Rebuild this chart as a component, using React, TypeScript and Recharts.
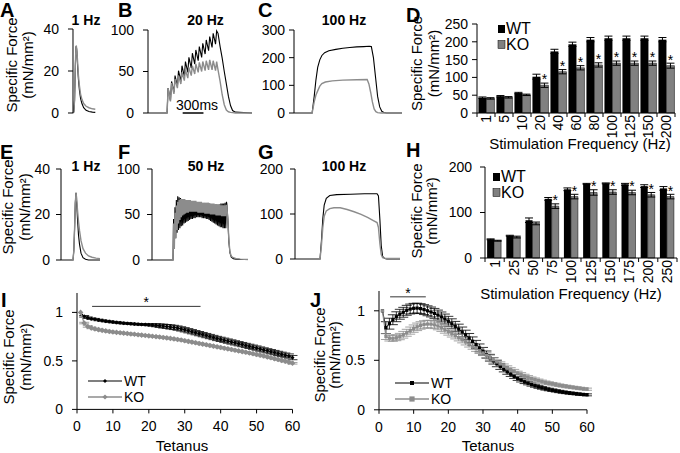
import React from "react";
import {
  LineChart,
  Line,
  BarChart,
  Bar,
  XAxis,
  YAxis,
  ErrorBar,
  LabelList,
  ReferenceLine,
} from "recharts";

const FONT = "'Liberation Sans', Arial, Helvetica, sans-serif";
const INK = "#000";
const GREY = "#8c8c8c";
const BAR_GREY = "#808080";

// ---------- force traces (time in ms, force in mN/mm²) ----------
// A: 1 Hz twitch
const aTime = [0, 8, 16, 24, 30, 34, 40, 48, 56, 66, 78, 92, 110, 135, 165, 200, 230];
const aWt = [0, 0.5, 6, 22, 31, 32, 29, 22, 16, 11, 7, 4.5, 2.5, 1.3, 0.7, 0.4, 0.3];
const aKo = [0, 0.5, 6, 22, 31, 32, 30, 24, 18, 13, 9, 6.5, 4.5, 3.2, 2.5, 2, 1.8];

// B: 20 Hz, peaks and troughs of each pulse
const bWtPeaks = [30, 38, 45, 51, 57, 62, 67, 72, 76, 80, 84, 88, 92, 96, 99];
const bWtTroughs = [15, 25, 32, 38, 44, 49, 54, 59, 63, 67, 71, 75, 79, 83];
const bKoPeaks = [30, 36, 41, 45, 49, 52, 55, 57, 59, 61, 62, 63, 64, 63, 62];
const bKoTroughs = [14, 23, 30, 35, 39, 42, 45, 47, 49, 50, 51, 52, 52, 51];
const bTailTime = [1010, 1040, 1070, 1100, 1130, 1160, 1190, 1220, 1260, 1500];
const bWtTail = [96, 80, 66, 50, 35, 20, 9, 3, 1, 0];
const bKoTail = [52, 38, 22, 10, 3.5, 1.5, 0.8, 0.5, 0, 0];

// C: 100 Hz
const cWtTime = [0, 260, 290, 315, 340, 370, 400, 440, 500, 600, 700, 800, 900, 1000, 1080, 1110, 1140, 1170, 1200, 1230, 1260, 1290, 1330, 1550];
const cWt = [0, 0, 60, 120, 165, 192, 208, 218, 225, 230, 234, 237, 239, 240, 241, 240, 200, 130, 60, 22, 6, 1.5, 0, 0];
const cKoTime = [0, 260, 290, 315, 340, 370, 400, 450, 550, 700, 900, 1050, 1075, 1100, 1125, 1150, 1175, 1200, 1250, 1550];
const cKo = [0, 0, 40, 65, 80, 97, 106, 112, 116, 119, 120, 121, 105, 75, 40, 15, 5, 1.5, 0, 0];

// E: 1 Hz twitch
const eTime = [0, 60, 120, 128, 136, 143, 150, 157, 165, 175, 185, 200, 220, 245, 275, 310, 350, 390];
const eWt = [0, 0, 0, 4, 14, 25, 29.5, 25, 18, 11, 7, 3, 1, 0.3, 0, 0, 0, 0];
const eKo = [0, 0, 0, 4, 14, 25, 29.5, 27, 22, 17, 13, 8.5, 5, 3, 1.8, 1.2, 0.8, 0.6];

// F: 50 Hz
const fWtPeaks = [45, 58, 66, 70, 69, 68, 67, 66, 66, 65, 65, 65, 64, 64, 64, 64, 63, 63, 63, 63, 63, 62, 62, 62, 62, 62, 62, 61, 61, 61, 61, 61, 61, 61, 62, 62, 62, 63, 64];
const fWtTroughs = [14, 24, 30, 33, 35, 37, 38, 40, 41, 42, 43, 44, 45, 45, 46, 46, 47, 47, 47, 47, 46, 46, 46, 45, 45, 44, 43, 42, 41, 40, 39, 38, 37, 36, 36, 35, 35, 35];
const fKoPeaks = [40, 52, 60, 64, 66, 67, 67, 67, 67, 66, 66, 66, 66, 65, 65, 65, 65, 64, 64, 64, 64, 63, 63, 63, 63, 63, 62, 62, 62, 62, 61, 61, 61, 61, 60, 60, 60, 60, 60];
const fKoTroughs = [12, 24, 33, 40, 44, 47, 49, 50, 51, 52, 52, 53, 53, 53, 53, 53, 53, 52, 52, 52, 52, 52, 51, 51, 51, 51, 50, 50, 50, 50, 49, 49, 49, 49, 48, 48, 48, 48];
const fTailTime = [1075, 1090, 1105, 1120, 1140, 1170, 1210, 1270, 1380];
const fWtTail = [62, 45, 20, 8, 3, 1.5, 1, 0.5, 0.5];
const fKoTail = [60, 45, 22, 9, 4, 2.5, 1.5, 1, 0.5];

// G: 100 Hz
const gWtTime = [0, 360, 380, 400, 420, 450, 500, 600, 800, 1000, 1180, 1200, 1220, 1240, 1260, 1290, 1320, 1510];
const gWt = [0, 0, 40, 90, 120, 135, 141, 143, 144, 145, 145, 140, 90, 30, 6, 1, 0, 0];
const gKoTime = [0, 360, 380, 400, 420, 450, 500, 560, 650, 750, 850, 950, 1050, 1120, 1180, 1200, 1220, 1240, 1260, 1300, 1510];
const gKo = [0, 0, 30, 70, 95, 107, 112, 114, 114, 110, 105, 99, 92, 86, 81, 70, 35, 10, 3, 1.5, 1];

// ---------- D: force-frequency, protocol 1 ----------
const dFreq = ["1", "5", "10", "20", "40", "60", "80", "100", "125", "150", "200"];
const dWt = [43, 47, 56, 102, 173, 193, 206, 210, 210, 210, 206];
const dWtErr = [2, 2, 2, 7, 6, 6, 6, 6, 6, 6, 6];
const dKo = [41, 44, 51, 78, 116, 127, 135, 140, 140, 140, 133];
const dKoErr = [2, 2, 2, 6, 6, 6, 6, 6, 6, 6, 7];
const dSig = [0, 0, 0, 1, 1, 1, 1, 1, 1, 1, 1];

// ---------- H: force-frequency, protocol 2 ----------
const hFreq = ["1", "25", "50", "75", "100", "125", "150", "175", "200", "250"];
const hWt = [41, 49, 83, 130, 151, 163, 164, 162, 158, 153];
const hWtErr = [1, 1, 5, 3, 3, 1, 1, 2, 3, 4];
const hKo = [38, 46, 76, 114, 135, 144, 145, 144, 139, 135];
const hKoErr = [1, 2, 3, 5, 5, 6, 5, 5, 5, 5];
const hSig = [0, 0, 0, 1, 1, 1, 1, 1, 1, 1];

// ---------- I: fatigue, 60 tetani ----------
const iWt = [
  1.0, 0.96, 0.945, 0.935, 0.93, 0.922, 0.916, 0.91, 0.905, 0.9,
  0.896, 0.892, 0.889, 0.886, 0.883, 0.88, 0.878, 0.876, 0.874, 0.872,
  0.87, 0.867, 0.863, 0.859, 0.855, 0.85, 0.845, 0.838, 0.83, 0.821,
  0.811, 0.801, 0.791, 0.781, 0.771, 0.761, 0.751, 0.741, 0.731, 0.722,
  0.713, 0.704, 0.695, 0.686, 0.677, 0.668, 0.659, 0.65, 0.641, 0.632,
  0.622, 0.613, 0.604, 0.595, 0.586, 0.577, 0.568, 0.559, 0.55, 0.534,
];
const iKo = [
  1.0, 0.89, 0.855, 0.84, 0.83, 0.822, 0.815, 0.809, 0.803, 0.798,
  0.794, 0.79, 0.786, 0.782, 0.778, 0.774, 0.77, 0.766, 0.762, 0.758,
  0.754, 0.75, 0.746, 0.741, 0.737, 0.732, 0.727, 0.721, 0.715, 0.708,
  0.701, 0.694, 0.687, 0.68, 0.673, 0.666, 0.659, 0.652, 0.645, 0.638,
  0.631, 0.624, 0.617, 0.61, 0.603, 0.596, 0.589, 0.582, 0.574, 0.566,
  0.558, 0.55, 0.541, 0.532, 0.523, 0.514, 0.505, 0.496, 0.487, 0.475,
];
const iWtErr = [
  0, 0.008, 0.008, 0.008, 0.008, 0.008, 0.008, 0.008, 0.008, 0.008,
  0.008, 0.008, 0.008, 0.008, 0.008, 0.008, 0.008, 0.008, 0.008, 0.01,
  0.012, 0.015, 0.018, 0.02, 0.02, 0.022, 0.022, 0.022, 0.022, 0.022,
  0.022, 0.022, 0.022, 0.022, 0.022, 0.022, 0.022, 0.022, 0.022, 0.022,
  0.022, 0.022, 0.022, 0.022, 0.022, 0.022, 0.022, 0.022, 0.022, 0.022,
  0.022, 0.022, 0.022, 0.022, 0.022, 0.022, 0.022, 0.022, 0.022, 0.022,
];
const iKoErr = [
  0, 0.008, 0.008, 0.008, 0.008, 0.008, 0.008, 0.008, 0.008, 0.008,
  0.008, 0.008, 0.008, 0.008, 0.008, 0.008, 0.008, 0.008, 0.008, 0.008,
  0.008, 0.008, 0.008, 0.008, 0.008, 0.008, 0.008, 0.008, 0.008, 0.008,
  0.008, 0.008, 0.008, 0.008, 0.008, 0.008, 0.008, 0.008, 0.008, 0.008,
  0.008, 0.008, 0.008, 0.008, 0.008, 0.008, 0.008, 0.008, 0.008, 0.008,
  0.008, 0.008, 0.008, 0.008, 0.008, 0.008, 0.008, 0.008, 0.008, 0.008,
];

// ---------- J: fatigue, 60 tetani ----------
const jWt = [
  1.0, 0.83, 0.87, 0.91, 0.94, 0.965, 0.985, 1.005, 1.018, 1.025,
  1.027, 1.022, 1.012, 1.0, 0.988, 0.974, 0.957, 0.938, 0.917, 0.894,
  0.869, 0.843, 0.815, 0.786, 0.756, 0.725, 0.692, 0.659, 0.625, 0.592,
  0.558, 0.526, 0.494, 0.465, 0.436, 0.409, 0.383, 0.359, 0.337, 0.317,
  0.299, 0.283, 0.268, 0.255, 0.243, 0.232, 0.222, 0.213, 0.205, 0.198,
  0.191, 0.185, 0.179, 0.174, 0.169, 0.165, 0.161, 0.157, 0.154, 0.151,
];
const jKo = [
  1.0, 0.74, 0.725, 0.722, 0.728, 0.74, 0.758, 0.778, 0.8, 0.82,
  0.838, 0.852, 0.862, 0.866, 0.865, 0.858, 0.846, 0.83, 0.811, 0.79,
  0.77, 0.75, 0.729, 0.708, 0.686, 0.664, 0.641, 0.618, 0.596, 0.574,
  0.551, 0.528, 0.505, 0.483, 0.463, 0.443, 0.424, 0.406, 0.389, 0.372,
  0.357, 0.342, 0.328, 0.315, 0.305, 0.295, 0.285, 0.276, 0.269, 0.262,
  0.255, 0.248, 0.242, 0.236, 0.231, 0.226, 0.221, 0.216, 0.212, 0.208,
];
const jWtErr = [
  0, 0.06, 0.055, 0.05, 0.05, 0.05, 0.05, 0.05, 0.05, 0.05,
  0.05, 0.05, 0.05, 0.05, 0.05, 0.05, 0.05, 0.05, 0.05, 0.05,
  0.05, 0.05, 0.05, 0.05, 0.048, 0.046, 0.044, 0.042, 0.04, 0.038,
  0.036, 0.034, 0.032, 0.03, 0.028, 0.026, 0.024, 0.022, 0.02, 0.02,
  0.018, 0.018, 0.016, 0.016, 0.015, 0.015, 0.014, 0.014, 0.013, 0.013,
  0.012, 0.012, 0.012, 0.011, 0.011, 0.011, 0.01, 0.01, 0.01, 0.01,
];
const jKoErr = [
  0, 0.03, 0.03, 0.03, 0.03, 0.032, 0.034, 0.035, 0.036, 0.037,
  0.038, 0.038, 0.038, 0.038, 0.038, 0.038, 0.038, 0.038, 0.037, 0.036,
  0.035, 0.034, 0.033, 0.032, 0.031, 0.03, 0.029, 0.028, 0.027, 0.026,
  0.025, 0.024, 0.023, 0.022, 0.021, 0.02, 0.02, 0.019, 0.019, 0.018,
  0.018, 0.017, 0.017, 0.016, 0.016, 0.015, 0.015, 0.015, 0.014, 0.014,
  0.014, 0.013, 0.013, 0.013, 0.012, 0.012, 0.012, 0.012, 0.011, 0.011,
];

const tetanusTicks = [0, 10, 20, 30, 40, 50, 60];

// ---------- helpers ----------
type Pt = { t: number; v: number };
const zipT = (ts: number[], vs: number[]): Pt[] => ts.map((t, i) => ({ t, v: vs[i] }));

// one twitch per stimulus: rise to peak, fall to trough before the next pulse
function pulseTrain(onset: number, period: number, rise: number, peaks: number[], troughs: number[], tailT: number[], tailV: number[]): Pt[] {
  const pts: Pt[] = [{ t: 0, v: 0 }, { t: onset, v: 0 }];
  peaks.forEach((p, i) => {
    const t0 = onset + i * period;
    pts.push({ t: t0 + rise, v: p });
    if (i < troughs.length) pts.push({ t: t0 + period - 1, v: troughs[i] });
  });
  tailT.forEach((t, i) => pts.push({ t, v: tailV[i] }));
  return pts;
}

type Rect = { l: number; t: number; r: number; b: number };
// room around each plot so tick labels are not clipped by the svg
const MT = 12;
const MR = 12;
const MB = 12;

const tickStyle = { fontSize: 14, fill: INK, fontFamily: FONT };

function Trace({ rect, yMax, yTicks, tMax, wt, ko, gap, children }: {
  rect: Rect; yMax: number; yTicks: number[]; tMax: number; wt: Pt[]; ko: Pt[]; gap: number; children?: React.ReactNode;
}) {
  const yW = 50;
  const w = yW + (rect.r - rect.l) + MR;
  const h = MT + (rect.b - rect.t) + MB;
  return (
    <div style={{ position: "absolute", left: rect.l - yW, top: rect.t - MT }}>
      <LineChart width={w} height={h} margin={{ top: MT, right: MR, bottom: MB, left: 0 }}>
        <XAxis type="number" dataKey="t" domain={[0, tMax]} hide />
        <YAxis type="number" domain={[0, yMax]} ticks={yTicks} interval={0} width={yW} stroke={INK}
          tickSize={5} tickMargin={gap} tick={tickStyle} />
        <Line data={wt} dataKey="v" type="linear" stroke={INK} strokeWidth={1.1} dot={false} activeDot={false} isAnimationActive={false} />
        <Line data={ko} dataKey="v" type="linear" stroke={GREY} strokeWidth={1.4} dot={false} activeDot={false} isAnimationActive={false} />
        {children}
      </LineChart>
    </div>
  );
}

const freqTick = (cats: string[], band: number) => (props: any) => {
  const { x, y, payload } = props;
  const axisY = y - 2;
  const last = payload.value === cats[cats.length - 1];
  return (
    <g>
      <line x1={x - band / 2} x2={x - band / 2} y1={axisY} y2={axisY + 4} stroke={INK} />
      {last && <line x1={x + band / 2} x2={x + band / 2} y1={axisY} y2={axisY + 4} stroke={INK} />}
      <text x={x} y={y} transform={`rotate(-90 ${x} ${y})`} textAnchor="end" dy="0.36em"
        fontSize={14} fontFamily={FONT} fill={INK}>{payload.value}</text>
    </g>
  );
};

const starLabel = (props: any) => {
  const { x, y, width, value } = props;
  if (!value) return null;
  return (
    <text x={x + width / 2} y={y - 1} textAnchor="middle" fontSize={14} fontFamily={FONT} fill={INK}>*</text>
  );
};

function FreqBars({ rect, cats, wt, wtErr, ko, koErr, sig, yMax, yTicks, gap, catGap }: {
  rect: Rect; cats: string[]; wt: number[]; wtErr: number[]; ko: number[]; koErr: number[]; sig: number[];
  yMax: number; yTicks: number[]; gap: number; catGap: string;
}) {
  const rows = cats.map((f, i) => ({ f, wt: wt[i], wtErr: wtErr[i], ko: ko[i], koErr: koErr[i], sig: sig[i] }));
  const yW = 50;
  const xH = 30;
  const plotW = rect.r - rect.l;
  return (
    <div style={{ position: "absolute", left: rect.l - yW, top: rect.t - MT }}>
      <BarChart width={yW + plotW + MR} height={MT + (rect.b - rect.t) + xH} data={rows}
        margin={{ top: MT, right: MR, bottom: 0, left: 0 }} barCategoryGap={catGap} barGap={0}>
        <XAxis dataKey="f" interval={0} stroke={INK} tickLine={false} tickSize={0} tickMargin={2} height={xH}
          tick={freqTick(cats, plotW / cats.length)} />
        <YAxis type="number" domain={[0, yMax]} ticks={yTicks} interval={0} width={yW} stroke={INK}
          tickSize={5} tickMargin={gap} tick={tickStyle} />
        <Bar dataKey="wt" fill={INK} isAnimationActive={false}>
          <ErrorBar dataKey="wtErr" width={4} stroke={INK} strokeWidth={1} />
        </Bar>
        <Bar dataKey="ko" fill={BAR_GREY} stroke={INK} strokeWidth={0.5} isAnimationActive={false}>
          <ErrorBar dataKey="koErr" width={4} stroke={INK} strokeWidth={1} />
          <LabelList dataKey="sig" content={starLabel} />
        </Bar>
      </BarChart>
    </div>
  );
}

const diamond = (fill: string, r: number) => (p: any) => {
  const { cx, cy, index } = p;
  if (cx == null || cy == null) return <g key={index} />;
  return <path key={index} d={`M${cx},${cy - r}L${cx + r},${cy}L${cx},${cy + r}L${cx - r},${cy}Z`} fill={fill} />;
};
const square = (fill: string, r: number) => (p: any) => {
  const { cx, cy, index } = p;
  if (cx == null || cy == null) return <g key={index} />;
  return <rect key={index} x={cx - r} y={cy - r} width={2 * r} height={2 * r} fill={fill} />;
};

function Fatigue({ rect, wt, ko, wtErr, koErr, marker, star }: {
  rect: Rect; wt: number[]; ko: number[]; wtErr: number[]; koErr: number[];
  marker: "diamond" | "square"; star: [number, number, number];
}) {
  const rows = wt.map((v, i) => ({ t: i + 1, wt: v, ko: ko[i], wtErr: wtErr[i], koErr: koErr[i] }));
  const yW = 50;
  const xH = 30;
  const mk = marker === "diamond" ? diamond : square;
  return (
    <div style={{ position: "absolute", left: rect.l - yW, top: rect.t - MT }}>
      <LineChart width={yW + (rect.r - rect.l) + MR} height={MT + (rect.b - rect.t) + xH} data={rows}
        margin={{ top: MT, right: MR, bottom: 0, left: 0 }}>
        <XAxis type="number" dataKey="t" domain={[0, 60]} ticks={tetanusTicks} interval={0} stroke={INK}
          tickSize={4} tickMargin={8} height={xH} tick={tickStyle} />
        <YAxis type="number" domain={[0, 1.2]} ticks={[0, 0.5, 1]} interval={0} width={yW} stroke={INK}
          tickSize={5} tickMargin={9} tick={tickStyle} />
        <ReferenceLine segment={[{ x: star[0], y: star[2] }, { x: star[1], y: star[2] }]} stroke={INK} strokeWidth={0.8}
          label={{ value: "*", position: "top", offset: -1, fontSize: 14, fill: INK, fontFamily: FONT }} />
        <Line dataKey="wt" type="linear" stroke={INK} strokeWidth={1} dot={mk(INK, marker === "diamond" ? 2 : 1.6)}
          activeDot={false} isAnimationActive={false}>
          <ErrorBar dataKey="wtErr" width={5} stroke={INK} strokeWidth={0.8} direction="y" />
        </Line>
        <Line dataKey="ko" type="linear" stroke={GREY} strokeWidth={1.2} dot={mk(GREY, marker === "diamond" ? 2.8 : 1.6)}
          activeDot={false} isAnimationActive={false}>
          <ErrorBar dataKey="koErr" width={5} stroke={GREY} strokeWidth={0.8} direction="y" />
        </Line>
      </LineChart>
    </div>
  );
}

function YLabel({ x1, x2, cy }: { x1: number; x2: number; cy: number }) {
  return (
    <g fontSize={15} fontFamily={FONT} fill={INK}>
      <text transform={`translate(${x1},${cy}) rotate(-90)`} textAnchor="middle" dominantBaseline="central">Specific Force</text>
      <text transform={`translate(${x2},${cy}) rotate(-90)`} textAnchor="middle" dominantBaseline="central">(mN/mm²)</text>
    </g>
  );
}

function SquareKey({ x, y }: { x: number; y: number }) {
  return (
    <g fontSize={16} fontFamily={FONT} fill={INK}>
      <rect x={x} y={y} width={7} height={8} fill={INK} />
      <text x={x + 8} y={y + 9}>WT</text>
      <rect x={x} y={y + 15.5} width={7} height={8} fill={BAR_GREY} stroke={INK} strokeWidth={0.5} />
      <text x={x + 8} y={y + 24.5}>KO</text>
    </g>
  );
}

function LineKey({ x, y, marker }: { x: number; y: number; marker: "diamond" | "square" }) {
  const mk = (cx: number, cy: number, fill: string, r: number) =>
    marker === "diamond"
      ? <path d={`M${cx},${cy - r}L${cx + r},${cy}L${cx},${cy + r}L${cx - r},${cy}Z`} fill={fill} />
      : <rect x={cx - r} y={cy - r} width={2 * r} height={2 * r} fill={fill} />;
  return (
    <g fontSize={14} fontFamily={FONT} fill={INK}>
      <line x1={x} x2={x + 34} y1={y} y2={y} stroke={INK} strokeWidth={1.1} />
      {mk(x + 17, y, INK, 2)}
      <text x={x + 36} y={y} dominantBaseline="central">WT</text>
      <line x1={x} x2={x + 34} y1={y + 16} y2={y + 16} stroke={GREY} strokeWidth={1.4} />
      {mk(x + 17, y + 16, GREY, 2.6)}
      <text x={x + 36} y={y + 16} dominantBaseline="central">KO</text>
    </g>
  );
}

export default function App() {
  const letter = (s: string, x: number, y: number) => (
    <text x={x} y={y} fontSize={20} fontWeight="bold" fontFamily={FONT} fill={INK}>{s}</text>
  );
  const title = (s: string, x: number, y: number) => (
    <text x={x} y={y} fontSize={14} fontWeight="bold" fontFamily={FONT} fill={INK} textAnchor="middle">{s}</text>
  );
  const xLabel = (s: string, x: number, y: number) => (
    <text x={x} y={y} fontSize={15} fontFamily={FONT} fill={INK} textAnchor="middle">{s}</text>
  );

  return (
    <div style={{ position: "absolute", left: 0, top: 0, width: 680, height: 453, background: "#fff", overflow: "hidden" }}>
      <Trace rect={{ l: 72.7, t: 29, r: 95, b: 113 }} yMax={40} yTicks={[0, 20, 40]} tMax={230}
        wt={zipT(aTime, aWt)} ko={zipT(aTime, aKo)} gap={9} />
      <Trace rect={{ l: 148, t: 30, r: 252, b: 113 }} yMax={100} yTicks={[0, 50, 100]} tMax={1500}
        wt={pulseTrain(275, 50, 15, bWtPeaks, bWtTroughs, bTailTime, bWtTail)}
        ko={pulseTrain(275, 50, 15, bKoPeaks, bKoTroughs, bTailTime, bKoTail)} gap={9}>
        <ReferenceLine segment={[{ x: 500, y: 0 }, { x: 800, y: 0 }]} stroke={INK} strokeWidth={1.5}
          label={{ value: "300ms", position: "top", offset: 3, dx: 4, fontSize: 14, fill: INK, fontFamily: FONT }} />
      </Trace>
      <Trace rect={{ l: 294, t: 30, r: 402, b: 113 }} yMax={300} yTicks={[0, 100, 200, 300]} tMax={1550}
        wt={zipT(cWtTime, cWt)} ko={zipT(cKoTime, cKo)} gap={4} />

      <Trace rect={{ l: 61, t: 169, r: 100, b: 260 }} yMax={40} yTicks={[0, 20, 40]} tMax={390}
        wt={zipT(eTime, eWt)} ko={zipT(eTime, eKo)} gap={6} />
      <Trace rect={{ l: 152, t: 169, r: 248, b: 260 }} yMax={100} yTicks={[0, 50, 100]} tMax={1380}
        wt={pulseTrain(302, 20, 8, fWtPeaks, fWtTroughs, fTailTime, fWtTail)}
        ko={pulseTrain(302, 20, 8, fKoPeaks, fKoTroughs, fTailTime, fKoTail)} gap={7} />
      <Trace rect={{ l: 295, t: 169, r: 400, b: 259 }} yMax={200} yTicks={[0, 100, 200]} tMax={1510}
        wt={zipT(gWtTime, gWt)} ko={zipT(gKoTime, gKo)} gap={7} />

      <FreqBars rect={{ l: 477, t: 24, r: 675, b: 113 }} cats={dFreq} wt={dWt} wtErr={dWtErr} ko={dKo} koErr={dKoErr}
        sig={dSig} yMax={250} yTicks={[0, 50, 100, 150, 200, 250]} gap={4} catGap="8%" />
      <FreqBars rect={{ l: 485, t: 167, r: 677, b: 258 }} cats={hFreq} wt={hWt} wtErr={hWtErr} ko={hKo} koErr={hKoErr}
        sig={hSig} yMax={200} yTicks={[0, 100, 200]} gap={8} catGap="11%" />

      <Fatigue rect={{ l: 76.5, t: 292.6, r: 292, b: 409 }} wt={iWt} ko={iKo} wtErr={iWtErr} koErr={iKoErr}
        marker="diamond" star={[4.2, 34.4, 1.062]} />
      <Fatigue rect={{ l: 379, t: 291.2, r: 587, b: 410 }} wt={jWt} ko={jKo} wtErr={jWtErr} koErr={jKoErr}
        marker="square" star={[3.2, 13.5, 1.141]} />

      <svg width={680} height={453} style={{ position: "absolute", left: 0, top: 0, pointerEvents: "none" }}>
        {letter("A", 0, 17)}
        {letter("B", 118, 17)}
        {letter("C", 258, 17)}
        {letter("D", 406, 22)}
        {letter("E", 0, 159)}
        {letter("F", 118, 159)}
        {letter("G", 258, 159)}
        {letter("H", 406, 157)}
        {letter("I", 1, 307)}
        {letter("J", 310, 307)}

        {title("1 Hz", 86, 25)}
        {title("20 Hz", 205.5, 25)}
        {title("100 Hz", 344, 25)}
        {title("1 Hz", 86, 171)}
        {title("50 Hz", 206, 171)}
        {title("100 Hz", 344, 171)}

        <YLabel x1={11.5} x2={27} cy={65} />
        <YLabel x1={7} x2={24.5} cy={207} />
        <YLabel x1={416} x2={433} cy={63.5} />
        <YLabel x1={416} x2={431} cy={211} />
        <YLabel x1={8} x2={25} cy={357} />
        <YLabel x1={319} x2={334} cy={355} />

        {xLabel("Stimulation Frequency (Hz)", 580, 149)}
        {xLabel("Stimulation Frequency (Hz)", 571, 299)}
        {xLabel("Tetanus", 182, 451)}
        {xLabel("Tetanus", 488, 451)}

        <SquareKey x={498} y={25} />
        <SquareKey x={493} y={173} />
        <LineKey x={88} y={381} marker="diamond" />
        <LineKey x={395} y={383} marker="square" />
      </svg>
    </div>
  );
}
